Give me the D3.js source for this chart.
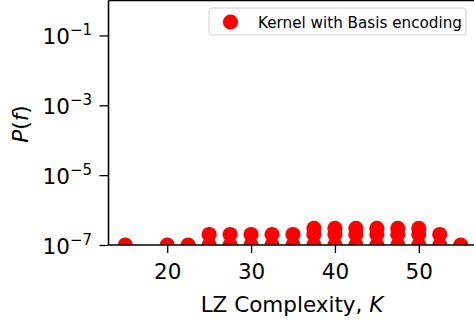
<!DOCTYPE html>
<html><head><meta charset="utf-8">
<script src="https://cdn.jsdelivr.net/npm/d3@7"></script>
<style>body{margin:0;background:#fff;} svg{display:block;font-family:"DejaVu Sans",sans-serif;}</style>
</head><body>
<svg id="c" width="474" height="326"></svg>
<script>
// Data: LZ complexity K and probabilities P(f)
const kValues = [15, 20, 22.5, 25, 27.5, 30, 32.5, 35, 37.5, 40, 42.5, 45, 47.5, 50, 52.5, 55];
const probLevels = [
  [1e-7],
  [1e-7],
  [1e-7],
  [1e-7, 2e-7],
  [1e-7, 2e-7],
  [1e-7, 2e-7],
  [1e-7, 2e-7],
  [1e-7, 2e-7],
  [1e-7, 2e-7, 3e-7],
  [1e-7, 2e-7, 3e-7],
  [1e-7, 2e-7, 3e-7],
  [1e-7, 2e-7, 3e-7],
  [1e-7, 2e-7, 3e-7],
  [1e-7, 2e-7, 3e-7],
  [1e-7, 2e-7],
  [1e-7]
];
const xTicks = [20, 30, 40, 50];
const yTickExps = [-1, -3, -5, -7];
const seriesName = "Kernel with Basis encoding";

const points = [];
kValues.forEach((k, i) => probLevels[i].forEach(p => points.push({k, p})));

const svg = d3.select("#c");
const L = 108.5, R = 477.5, T = 0.5, B = 245;
const x = d3.scaleLinear().domain([13, 57]).range([L, R]);
const y = d3.scaleLog().domain([1e-7, 1]).range([B, T]);

svg.append("clipPath").attr("id", "clip").append("rect")
  .attr("x", L).attr("y", T).attr("width", R - L).attr("height", B - T);

svg.append("g").attr("clip-path", "url(#clip)")
  .selectAll("circle").data(points).join("circle")
  .attr("cx", d => x(d.k)).attr("cy", d => y(d.p)).attr("r", 7.6)
  .attr("fill", "#ff0000");

// X axis
const xAxis = svg.append("g").attr("transform", `translate(0,${B})`)
  .call(d3.axisBottom(x).tickValues(xTicks).tickSize(8).tickFormat(d3.format("d")));
xAxis.select(".domain").remove();
xAxis.selectAll("line").attr("stroke", "#000").attr("stroke-width", 1.3);
xAxis.selectAll("text").attr("y", 34).attr("dy", null).attr("font-size", 21.5).attr("fill", "#000").attr("font-family", "DejaVu Sans");

// Y axis
const yAxis = svg.append("g").attr("transform", `translate(${L},0)`)
  .call(d3.axisLeft(y).tickValues(yTickExps.map(e => Math.pow(10, e))).tickSize(9).tickFormat(""));
yAxis.select(".domain").remove();
yAxis.selectAll("line").attr("stroke", "#000").attr("stroke-width", 1.3);
yAxis.selectAll(".tick").each(function(d) {
  const e = Math.round(Math.log10(d));
  const t = d3.select(this).append("text")
    .attr("x", -16.5).attr("y", 8).attr("text-anchor", "end").attr("fill", "#000")
    .attr("font-family", "DejaVu Sans");
  t.append("tspan").attr("font-size", 21.5).text("10");
  t.append("tspan").attr("font-size", 15).attr("dy", -9).text("\u2212" + Math.abs(e));
});

// Spines
svg.append("line").attr("x1", L).attr("x2", L).attr("y1", T).attr("y2", B).attr("stroke", "#000").attr("stroke-width", 1.6);
svg.append("line").attr("x1", L).attr("x2", R).attr("y1", B).attr("y2", B).attr("stroke", "#000").attr("stroke-width", 1.6);
svg.append("line").attr("x1", L).attr("x2", R).attr("y1", T).attr("y2", T).attr("stroke", "#000").attr("stroke-width", 1.6);

// Axis labels
svg.append("text").attr("x", 292).attr("y", 312).attr("text-anchor", "middle")
  .attr("font-size", 21.5).attr("fill", "#000")
  .call(t => { t.append("tspan").text("LZ Complexity, "); t.append("tspan").attr("font-style", "italic").text("K"); });

svg.append("text").attr("transform", "translate(28,124) rotate(-90)").attr("text-anchor", "middle")
  .attr("font-size", 21.5).attr("fill", "#000")
  .call(t => {
    t.append("tspan").attr("font-style", "italic").text("P");
    t.append("tspan").text("(");
    t.append("tspan").attr("font-style", "italic").text("f");
    t.append("tspan").text(")");
  });

// Legend
const lg = svg.append("g");
lg.append("rect").attr("x", 209).attr("y", 8).attr("width", 257).attr("height", 27).attr("rx", 3)
  .attr("fill", "#fff").attr("fill-opacity", 0.8).attr("stroke", "#d0d0d0").attr("stroke-width", 1);
lg.append("circle").attr("cx", 230.5).attr("cy", 22).attr("r", 7.6).attr("fill", "#ff0000");
lg.append("text").attr("x", 258).attr("y", 27.5).attr("font-size", 15.2).attr("fill", "#000").text(seriesName);
</script>
</body></html>
